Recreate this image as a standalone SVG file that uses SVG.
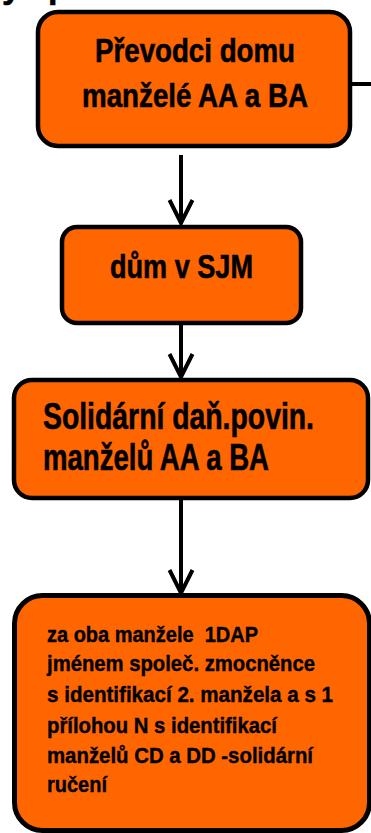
<svg xmlns="http://www.w3.org/2000/svg" width="371" height="833" viewBox="0 0 371 833">
<style>
.box{fill:#FF6600;stroke:#000;stroke-width:4.5}
.t{font-family:"Liberation Sans",Arial,sans-serif;font-weight:bold;fill:#000;stroke:#000;stroke-width:0.6;white-space:pre}
.big{font-size:34px}
.mid{font-size:37px}
.sm{font-size:22.5px;stroke-width:0.4}
.c{stroke:#000;stroke-width:4;fill:none}
</style>
<defs>
<marker id="arr" viewBox="0 0 30 30" refX="26" refY="15" markerWidth="30" markerHeight="30" markerUnits="userSpaceOnUse" orient="auto">
<path d="M3 3.5 L26 15 L3 26.5" fill="none" stroke="#000" stroke-width="4" stroke-linejoin="miter"/>
</marker>
</defs>
<text class="t big" x="2 30 48" y="-2">y p</text>
<g id="connectors">
<line class="c" x1="181" y1="155" x2="181" y2="223" marker-end="url(#arr)"/>
<line class="c" x1="181" y1="325" x2="181" y2="377" marker-end="url(#arr)"/>
<line class="c" x1="181" y1="500" x2="181" y2="593" marker-end="url(#arr)"/>
<line class="c" x1="350" y1="84" x2="371" y2="84"/>
</g>
<g id="n1">
<rect class="box" x="38" y="12" width="312" height="134" rx="20"/>
<text class="t big" x="95" y="62" textLength="200" lengthAdjust="spacingAndGlyphs">Převodci domu</text>
<text class="t big" x="82" y="107" textLength="226" lengthAdjust="spacingAndGlyphs">manželé AA a BA</text>
</g>
<g id="n2">
<rect class="box" x="62" y="227" width="239" height="96" rx="15"/>
<text class="t big" x="110" y="278" textLength="143" lengthAdjust="spacingAndGlyphs">dům v SJM</text>
</g>
<g id="n3">
<rect class="box" x="14" y="380" width="354" height="118" rx="18"/>
<text class="t mid" x="43" y="429" textLength="271" lengthAdjust="spacingAndGlyphs">Solidární daň.povin.</text>
<text class="t mid" x="43" y="470" textLength="226" lengthAdjust="spacingAndGlyphs">manželů AA a BA</text>
</g>
<g id="n4">
<rect class="box" x="14.5" y="595.5" width="355" height="235" rx="28" style="stroke-width:5"/>
<text class="t sm" x="47" y="642" textLength="211" lengthAdjust="spacingAndGlyphs">za oba manžele  1DAP</text>
<text class="t sm" x="47" y="671" textLength="268" lengthAdjust="spacingAndGlyphs">jménem společ. zmocněnce</text>
<text class="t sm" x="47" y="702" textLength="286" lengthAdjust="spacingAndGlyphs">s identifikací 2. manžela a s 1</text>
<text class="t sm" x="47" y="733" textLength="230" lengthAdjust="spacingAndGlyphs">přílohou N s identifikací</text>
<text class="t sm" x="47" y="763" textLength="266" lengthAdjust="spacingAndGlyphs">manželů CD a DD -solidární</text>
<text class="t sm" x="47" y="792" textLength="60" lengthAdjust="spacingAndGlyphs">ručení</text>
</g>
</svg>
